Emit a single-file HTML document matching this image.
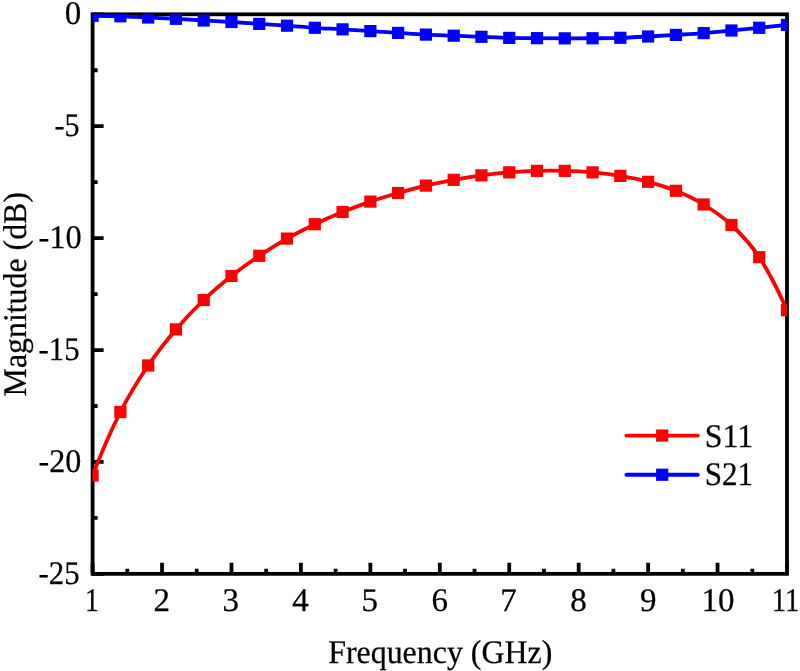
<!DOCTYPE html>
<html><head><meta charset="utf-8"><style>
html,body{margin:0;padding:0;background:#fff;width:800px;height:671px;overflow:hidden}
svg{display:block;will-change:transform}
text{text-rendering:geometricPrecision;font-family:"Liberation Serif",serif;font-size:33px;fill:#000;stroke:#000;stroke-width:0.25px}
</style></head><body>
<svg width="800" height="671" viewBox="0 0 800 671">
<defs><clipPath id="c"><rect x="92.60" y="14.30" width="694.40" height="559.55"/></clipPath></defs>
<rect x="92.60" y="14.30" width="694.40" height="559.55" fill="none" stroke="#000" stroke-width="3.8" stroke-linejoin="miter" stroke-linecap="square"/>
<path d="M92.60,573.85V562.85 M162.04,573.85V562.85 M231.48,573.85V562.85 M300.92,573.85V562.85 M370.36,573.85V562.85 M439.80,573.85V562.85 M509.24,573.85V562.85 M578.68,573.85V562.85 M648.12,573.85V562.85 M717.56,573.85V562.85 M787.00,573.85V562.85 M127.32,573.85V568.85 M196.76,573.85V568.85 M266.20,573.85V568.85 M335.64,573.85V568.85 M405.08,573.85V568.85 M474.52,573.85V568.85 M543.96,573.85V568.85 M613.40,573.85V568.85 M682.84,573.85V568.85 M752.28,573.85V568.85 M92.60,14.30H103.60 M92.60,126.21H103.60 M92.60,238.12H103.60 M92.60,350.03H103.60 M92.60,461.94H103.60 M92.60,573.85H103.60 M92.60,70.26H97.60 M92.60,182.17H97.60 M92.60,294.08H97.60 M92.60,405.99H97.60 M92.60,517.89H97.60" stroke="#000" stroke-width="3.8" fill="none"/>
<g clip-path="url(#c)">
<path d="M92.60,475.50 C101.86,451.50 111.12,430.33 120.38,412.00 C129.63,393.67 138.89,379.27 148.15,365.50 C157.41,351.73 166.67,340.32 175.93,329.40 C185.19,318.48 194.45,308.90 203.70,300.00 C212.96,291.10 222.22,283.37 231.48,276.00 C240.74,268.63 250.00,262.03 259.26,255.80 C268.51,249.57 277.77,243.87 287.03,238.60 C296.29,233.33 305.55,228.63 314.81,224.20 C324.07,219.77 333.33,215.77 342.58,212.00 C351.84,208.23 361.10,204.77 370.36,201.60 C379.62,198.43 388.88,195.67 398.14,193.00 C407.39,190.33 416.65,187.79 425.91,185.60 C435.17,183.41 444.43,181.56 453.69,179.85 C462.95,178.14 472.21,176.60 481.46,175.35 C490.72,174.10 499.98,173.10 509.24,172.35 C518.50,171.60 527.76,171.10 537.02,170.85 C546.27,170.60 555.53,170.60 564.79,170.85 C574.05,171.10 583.31,171.51 592.57,172.35 C601.83,173.19 611.09,174.32 620.34,175.90 C629.60,177.48 638.86,179.32 648.12,181.80 C657.38,184.28 666.64,187.02 675.90,190.80 C685.15,194.58 694.41,198.80 703.67,204.50 C712.93,210.20 722.19,216.22 731.45,225.00 C740.71,233.78 749.97,242.94 759.22,257.15 C768.48,271.36 777.74,289.06 787.00,310.25" stroke="#ff0000" stroke-width="3.8" fill="none" stroke-linejoin="round" stroke-linecap="round"/>
<g fill="#ff0000"><rect x="86.50" y="469.40" width="12.20" height="12.20"/><rect x="114.28" y="405.90" width="12.20" height="12.20"/><rect x="142.05" y="359.40" width="12.20" height="12.20"/><rect x="169.83" y="323.30" width="12.20" height="12.20"/><rect x="197.60" y="293.90" width="12.20" height="12.20"/><rect x="225.38" y="269.90" width="12.20" height="12.20"/><rect x="253.16" y="249.70" width="12.20" height="12.20"/><rect x="280.93" y="232.50" width="12.20" height="12.20"/><rect x="308.71" y="218.10" width="12.20" height="12.20"/><rect x="336.48" y="205.90" width="12.20" height="12.20"/><rect x="364.26" y="195.50" width="12.20" height="12.20"/><rect x="392.04" y="186.90" width="12.20" height="12.20"/><rect x="419.81" y="179.50" width="12.20" height="12.20"/><rect x="447.59" y="173.75" width="12.20" height="12.20"/><rect x="475.36" y="169.25" width="12.20" height="12.20"/><rect x="503.14" y="166.25" width="12.20" height="12.20"/><rect x="530.92" y="164.75" width="12.20" height="12.20"/><rect x="558.69" y="164.75" width="12.20" height="12.20"/><rect x="586.47" y="166.25" width="12.20" height="12.20"/><rect x="614.24" y="169.80" width="12.20" height="12.20"/><rect x="642.02" y="175.70" width="12.20" height="12.20"/><rect x="669.80" y="184.70" width="12.20" height="12.20"/><rect x="697.57" y="198.40" width="12.20" height="12.20"/><rect x="725.35" y="218.90" width="12.20" height="12.20"/><rect x="753.12" y="251.05" width="12.20" height="12.20"/><rect x="780.90" y="304.15" width="12.20" height="12.20"/></g>
<path d="M92.60,15.80 C101.86,15.85 111.12,16.02 120.38,16.30 C129.63,16.58 138.89,17.08 148.15,17.50 C157.41,17.92 166.67,18.30 175.93,18.80 C185.19,19.30 194.45,19.97 203.70,20.50 C212.96,21.03 222.22,21.43 231.48,22.00 C240.74,22.57 250.00,23.28 259.26,23.90 C268.51,24.52 277.77,25.05 287.03,25.70 C296.29,26.35 305.55,27.19 314.81,27.80 C324.07,28.41 333.33,28.80 342.58,29.35 C351.84,29.90 361.10,30.51 370.36,31.10 C379.62,31.69 388.88,32.32 398.14,32.90 C407.39,33.48 416.65,34.13 425.91,34.60 C435.17,35.07 444.43,35.33 453.69,35.70 C462.95,36.07 472.21,36.43 481.46,36.80 C490.72,37.17 499.98,37.67 509.24,37.90 C518.50,38.12 527.76,38.07 537.02,38.15 C546.27,38.23 555.53,38.33 564.79,38.35 C574.05,38.37 583.31,38.34 592.57,38.25 C601.83,38.16 611.09,38.09 620.34,37.80 C629.60,37.51 638.86,36.98 648.12,36.50 C657.38,36.02 666.64,35.47 675.90,34.90 C685.15,34.33 694.41,33.83 703.67,33.10 C712.93,32.37 722.19,31.38 731.45,30.50 C740.71,29.62 749.97,28.73 759.22,27.80 C768.48,26.87 777.74,25.90 787.00,24.90" stroke="#0000ff" stroke-width="3.8" fill="none" stroke-linejoin="round" stroke-linecap="round"/>
<g fill="#0000ff"><rect x="86.50" y="9.70" width="12.20" height="12.20"/><rect x="114.28" y="10.20" width="12.20" height="12.20"/><rect x="142.05" y="11.40" width="12.20" height="12.20"/><rect x="169.83" y="12.70" width="12.20" height="12.20"/><rect x="197.60" y="14.40" width="12.20" height="12.20"/><rect x="225.38" y="15.90" width="12.20" height="12.20"/><rect x="253.16" y="17.80" width="12.20" height="12.20"/><rect x="280.93" y="19.60" width="12.20" height="12.20"/><rect x="308.71" y="21.70" width="12.20" height="12.20"/><rect x="336.48" y="23.25" width="12.20" height="12.20"/><rect x="364.26" y="25.00" width="12.20" height="12.20"/><rect x="392.04" y="26.80" width="12.20" height="12.20"/><rect x="419.81" y="28.50" width="12.20" height="12.20"/><rect x="447.59" y="29.60" width="12.20" height="12.20"/><rect x="475.36" y="30.70" width="12.20" height="12.20"/><rect x="503.14" y="31.80" width="12.20" height="12.20"/><rect x="530.92" y="32.05" width="12.20" height="12.20"/><rect x="558.69" y="32.25" width="12.20" height="12.20"/><rect x="586.47" y="32.15" width="12.20" height="12.20"/><rect x="614.24" y="31.70" width="12.20" height="12.20"/><rect x="642.02" y="30.40" width="12.20" height="12.20"/><rect x="669.80" y="28.80" width="12.20" height="12.20"/><rect x="697.57" y="27.00" width="12.20" height="12.20"/><rect x="725.35" y="24.40" width="12.20" height="12.20"/><rect x="753.12" y="21.70" width="12.20" height="12.20"/><rect x="780.90" y="18.80" width="12.20" height="12.20"/></g>
</g>
<path d="M626.4,435.55H697.8" stroke="#ff0000" stroke-width="3.8" stroke-linecap="round"/>
<rect x="656.10" y="429.45" width="12.2" height="12.2" fill="#ff0000"/>
<path d="M626.4,474.75H697.8" stroke="#0000ff" stroke-width="3.8" stroke-linecap="round"/>
<rect x="656.10" y="468.65" width="12.2" height="12.2" fill="#0000ff"/>
<text transform="translate(704.73,446.5) scale(0.965,1)">S11</text>
<text transform="translate(704.8,485.2) scale(0.94,1)">S21</text>
<text transform="translate(91.78,611) scale(0.835,1)" text-anchor="middle">1</text><text transform="translate(161.70,611) scale(1.000,1)" text-anchor="middle">2</text><text transform="translate(230.70,611) scale(1.000,1)" text-anchor="middle">3</text><text transform="translate(300.40,611) scale(1.000,1)" text-anchor="middle">4</text><text transform="translate(369.85,611) scale(1.000,1)" text-anchor="middle">5</text><text transform="translate(439.75,611) scale(1.000,1)" text-anchor="middle">6</text><text transform="translate(508.50,611) scale(1.000,1)" text-anchor="middle">7</text><text transform="translate(578.55,611) scale(1.000,1)" text-anchor="middle">8</text><text transform="translate(648.20,611) scale(1.000,1)" text-anchor="middle">9</text><text transform="translate(717.90,611) scale(1.000,1)" text-anchor="middle">10</text><text transform="translate(785.50,611) scale(0.872,1)" text-anchor="middle">11</text>
<text transform="translate(81.25,24.10) scale(1.000,1)" text-anchor="end">0</text><text transform="translate(79.54,136.01) scale(0.912,1)" text-anchor="end">-5</text><text transform="translate(81.63,247.92) scale(0.981,1)" text-anchor="end">-10</text><text transform="translate(79.67,359.83) scale(0.935,1)" text-anchor="end">-15</text><text transform="translate(81.32,471.74) scale(0.973,1)" text-anchor="end">-20</text><text transform="translate(79.67,583.65) scale(0.935,1)" text-anchor="end">-25</text>
<text transform="translate(440.24,662.8) scale(0.967,1)" text-anchor="middle">Frequency (GHz)</text>
<text transform="translate(26,294.24) rotate(-90) scale(0.965,1)" text-anchor="middle">Magnitude (dB)</text>
</svg>
</body></html>
